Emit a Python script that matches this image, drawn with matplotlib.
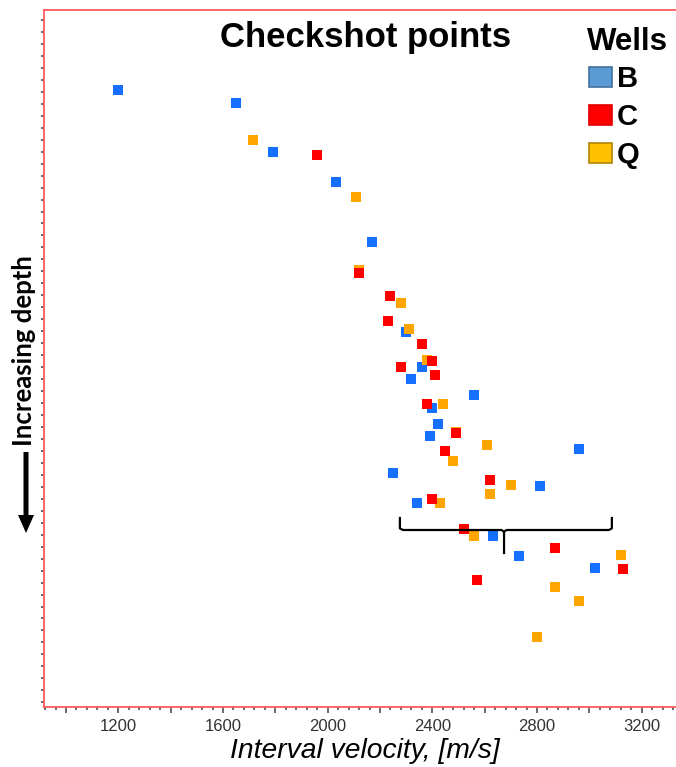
import numpy as np
import matplotlib
matplotlib.use("Agg")
import matplotlib.pyplot as plt
from matplotlib.patches import Rectangle, FancyArrow
from matplotlib.ticker import MultipleLocator, FuncFormatter

# Checkshot points: interval velocity [m/s] vs depth (arbitrary units)
b_vel = [1200, 1650, 1790, 2030, 2170, 2300, 2360, 2320, 2560, 2400, 2420, 2390,
         2960, 2250, 2810, 2340, 2630, 2730, 3020]
b_depth = [400, 465, 710, 860, 1160, 1610, 1785, 1845, 1925, 1990, 2070, 2130,
           2195, 2315, 2380, 2465, 2630, 2730, 2790]

c_vel = [1960, 2120, 2240, 2230, 2360, 2400, 2280, 2410, 2380, 2490, 2450, 2620,
         2400, 2520, 2870, 3130, 2570]
c_depth = [725, 1315, 1430, 1555, 1670, 1755, 1785, 1825, 1970, 2115, 2205, 2350,
           2445, 2595, 2690, 2795, 2850]

q_vel = [1715, 2110, 2120, 2280, 2310, 2380, 2440, 2490, 2610, 2480, 2700, 2620,
         2430, 2560, 3120, 2870, 2960, 2800]
q_depth = [650, 935, 1300, 1465, 1595, 1750, 1970, 2110, 2175, 2255, 2375, 2420,
           2465, 2630, 2725, 2885, 2955, 3135]

wells = ["B", "C", "Q"]
marker_colors = ["#1570ff", "#ff0000", "#ffa500"]
legend_colors = ["#5b9bd5", "#ff0000", "#ffc000"]
legend_edges = ["#41719c", "#e00000", "#b08400"]

# brace marking the scattered deep interval
brace_left, brace_right, brace_mid = 2276, 3086, 2674
brace_top, brace_y, brace_tip = 2540, 2600, 2715

fig = plt.figure(figsize=(6.76, 7.67), dpi=100)
W, H = 676, 767
ax = fig.add_axes([44 / W, 1 - 707 / H, 666 / W, 697 / H])

ax.scatter(b_vel, b_depth, marker="s", s=44, color=marker_colors[0], lw=0, zorder=3)
ax.scatter(q_vel, q_depth, marker="s", s=44, color=marker_colors[2], lw=0, zorder=3)
ax.scatter(c_vel, c_depth, marker="s", s=44, color=marker_colors[1], lw=0, zorder=3)

ax.set_xlim(916, 3461)
ax.set_ylim(3485, 0)

# frame
for sp in ax.spines.values():
    sp.set_color("#ff5a5a")
    sp.set_linewidth(1.3)

ax.xaxis.set_major_locator(MultipleLocator(200))
ax.xaxis.set_minor_locator(MultipleLocator(40))
ax.xaxis.set_major_formatter(FuncFormatter(lambda v, p: f"{int(v)}" if v % 400 == 0 else ""))
ax.set_yticks(np.arange(50, 3485, 59.85))
ax.yaxis.set_major_formatter(FuncFormatter(lambda v, p: ""))
ax.tick_params(axis="x", which="major", length=4.5, width=1.1, color="#444444",
               labelsize=12, labelcolor="#333333", pad=4, direction="out")
ax.tick_params(axis="x", which="minor", length=2.5, width=1.1, color="#444444", direction="out")
ax.tick_params(axis="y", which="major", length=2.5, width=1.1, color="#444444", direction="out")
for lab in ax.get_xticklabels():
    lab.set_family("Liberation Sans")

ax.set_xlabel("Interval velocity, [m/s]", fontsize=20.3, style="italic",
              family="Liberation Sans", labelpad=3)
ax.xaxis.label.set_x((365 - 44) / 666)

# brace
ax.plot([brace_left, brace_left, brace_left + 12, brace_mid - 10, brace_mid, brace_mid],
        [brace_top, brace_y - 8, brace_y, brace_y, brace_y + 8, brace_tip],
        color="black", lw=1.6, solid_joinstyle="round", zorder=4)
ax.plot([brace_mid, brace_mid + 10, brace_right - 12, brace_right, brace_right],
        [brace_y + 8, brace_y, brace_y, brace_y - 8, brace_top],
        color="black", lw=1.6, solid_joinstyle="round", zorder=4)

# title
fig.text(366 / W, 1 - 47 / H, "Checkshot points", ha="center", va="baseline",
         fontsize=25, weight="bold", family="Liberation Sans")

# legend drawn by hand
fig.text(587 / W, 1 - 50 / H, "Wells", ha="left", va="baseline",
         fontsize=22.5, weight="bold", family="Liberation Sans")
for i, (name, fc, ec) in enumerate(zip(wells, legend_colors, legend_edges)):
    cy = 77 + 38 * i
    fig.add_artist(Rectangle((589 / W, 1 - (cy + 10) / H), 23 / W, 20 / H,
                             transform=fig.transFigure, facecolor=fc, edgecolor=ec, lw=1.2))
    fig.text(617 / W, 1 - (cy + 10) / H, name, ha="left", va="baseline",
             fontsize=21, weight="bold", family="Liberation Sans")

# depth label with arrow
fig.text(24 / W, 1 - 351 / H, "Increasing depth", rotation=90, ha="center", va="center",
         fontsize=18.5, weight="bold", family="Lato")
fig.add_artist(FancyArrow(26 / W, 1 - 452 / H, 0, -81 / H, width=5 / W,
                          head_width=16 / W, head_length=18 / H,
                          length_includes_head=True, transform=fig.transFigure,
                          color="black", lw=0))

fig.savefig("out.png", dpi=100)
